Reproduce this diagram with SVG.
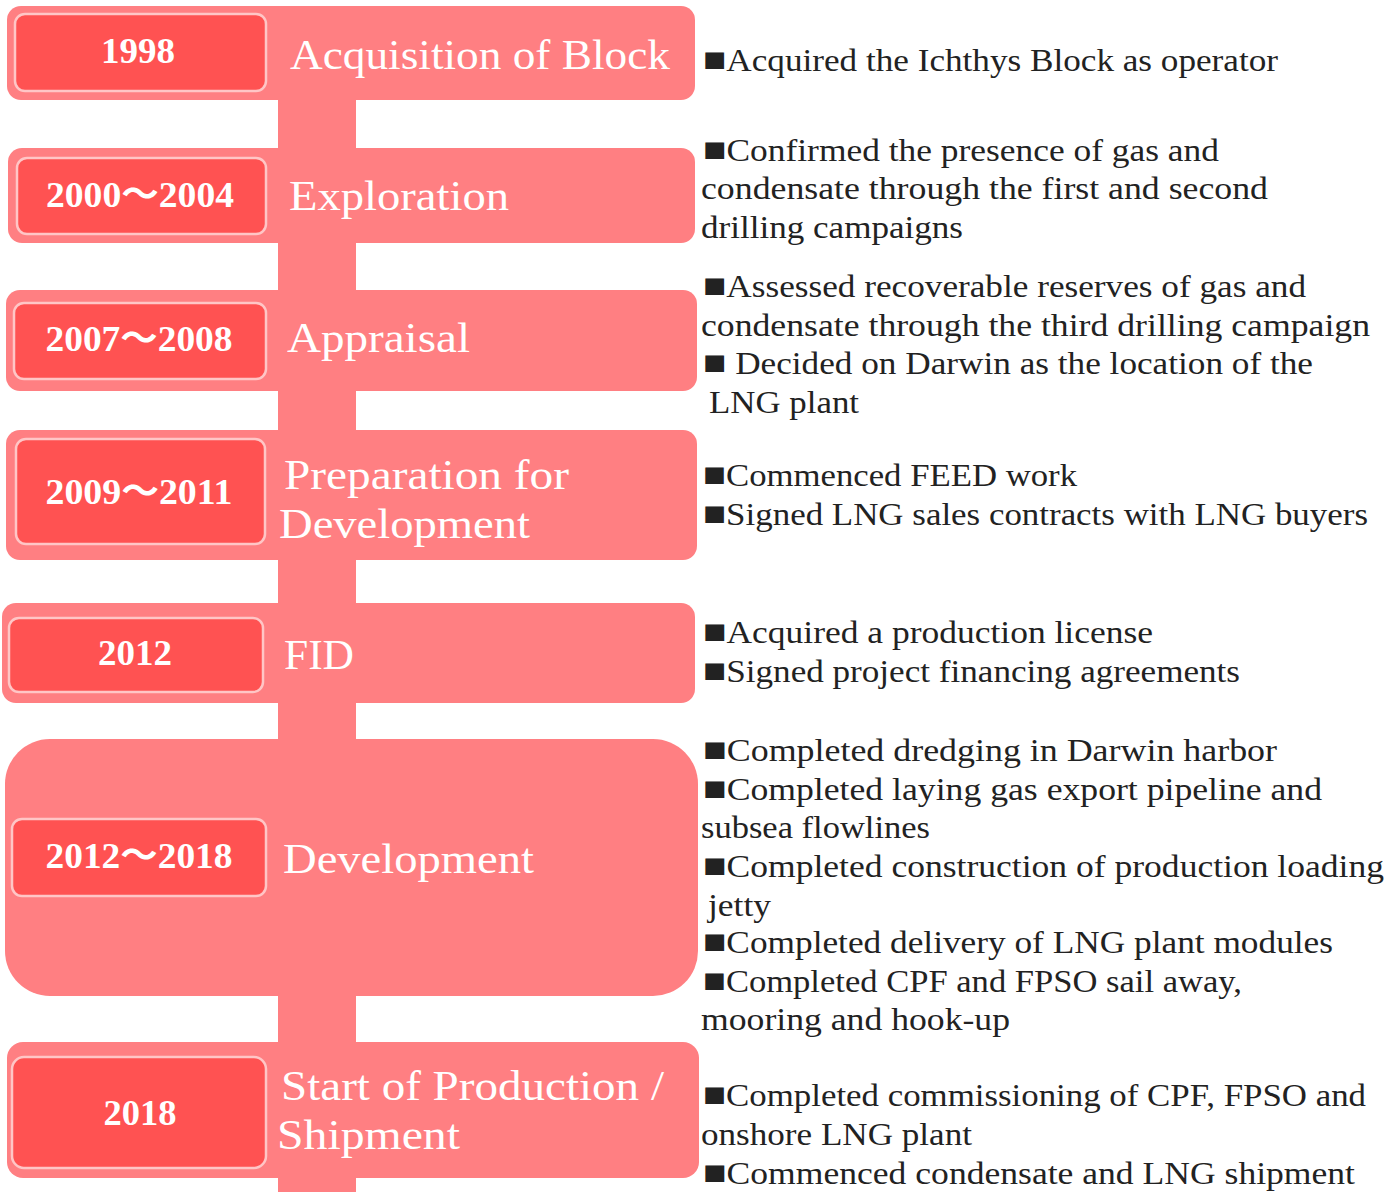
<svg xmlns="http://www.w3.org/2000/svg" width="1393" height="1192" viewBox="0 0 1393 1192">
<style>
.outer{fill:#FF7F82}
.inner{fill:#FF5252;stroke:#FFC6C6;stroke-width:2.5}
.yr{font-family:"Liberation Serif","Noto Sans CJK JP",serif;font-weight:bold;font-size:36px;fill:#fff;text-anchor:middle}
.ttl{font-family:"Liberation Serif",serif;font-size:42px;fill:#fff}
.desc{font-family:"Liberation Serif","DejaVu Sans",serif;font-size:31px;fill:#222}
.b{font-size:34px}
</style>
<rect width="1393" height="1192" fill="#fff"/>
<g id="connectors">
<rect x="278" y="90" width="78" height="1102" class="outer"/>
</g>
<g id="n1998">
<rect class="outer" x="7" y="6" width="688" height="94" rx="14"/>
<rect class="inner" x="15" y="14" width="251" height="77" rx="10"/>
<text class="yr" x="138" y="63" textLength="74" lengthAdjust="spacingAndGlyphs">1998</text>
<text class="ttl" x="290" y="69" textLength="380" lengthAdjust="spacingAndGlyphs">Acquisition of Block</text>
<text class="desc" x="703" y="71" textLength="575" lengthAdjust="spacingAndGlyphs"><tspan class="b">■</tspan>Acquired the Ichthys Block as operator</text>
</g>
<g id="n2000">
<rect class="outer" x="8" y="148" width="687" height="95" rx="14"/>
<rect class="inner" x="17" y="158" width="249" height="76" rx="10"/>
<text class="yr" x="140" y="207" textLength="188" lengthAdjust="spacingAndGlyphs">2000～2004</text>
<text class="ttl" x="289" y="210" textLength="220" lengthAdjust="spacingAndGlyphs">Exploration</text>
<text class="desc" x="703" y="161" textLength="516" lengthAdjust="spacingAndGlyphs"><tspan class="b">■</tspan>Confirmed the presence of gas and</text>
<text class="desc" x="701" y="199" textLength="567" lengthAdjust="spacingAndGlyphs">condensate through the first and second</text>
<text class="desc" x="701" y="238" textLength="262" lengthAdjust="spacingAndGlyphs">drilling campaigns</text>
</g>
<g id="n2007">
<rect class="outer" x="6" y="290" width="691" height="101" rx="14"/>
<rect class="inner" x="14" y="303" width="252" height="76" rx="10"/>
<text class="yr" x="139" y="351" textLength="187" lengthAdjust="spacingAndGlyphs">2007～2008</text>
<text class="ttl" x="287" y="352" textLength="183" lengthAdjust="spacingAndGlyphs">Appraisal</text>
<text class="desc" x="703" y="297" textLength="603" lengthAdjust="spacingAndGlyphs"><tspan class="b">■</tspan>Assessed recoverable reserves of gas and</text>
<text class="desc" x="701" y="336" textLength="669" lengthAdjust="spacingAndGlyphs">condensate through the third drilling campaign</text>
<text class="desc" x="703" y="374" textLength="610" lengthAdjust="spacingAndGlyphs"><tspan class="b">■</tspan> Decided on Darwin as the location of the</text>
<text class="desc" x="709" y="413" textLength="150" lengthAdjust="spacingAndGlyphs">LNG plant</text>
</g>
<g id="n2009">
<rect class="outer" x="6" y="430" width="691" height="130" rx="14"/>
<rect class="inner" x="16" y="439" width="249" height="105" rx="10"/>
<text class="yr" x="139" y="504" textLength="187" lengthAdjust="spacingAndGlyphs">2009～2011</text>
<text class="ttl" x="284" y="489" textLength="285" lengthAdjust="spacingAndGlyphs">Preparation for</text>
<text class="ttl" x="279" y="538" textLength="251" lengthAdjust="spacingAndGlyphs">Development</text>
<text class="desc" x="703" y="486" textLength="374" lengthAdjust="spacingAndGlyphs"><tspan class="b">■</tspan>Commenced FEED work</text>
<text class="desc" x="703" y="525" textLength="665" lengthAdjust="spacingAndGlyphs"><tspan class="b">■</tspan>Signed LNG sales contracts with LNG buyers</text>
</g>
<g id="n2012">
<rect class="outer" x="2" y="603" width="693" height="100" rx="14"/>
<rect class="inner" x="9" y="618" width="254" height="74" rx="10"/>
<text class="yr" x="135" y="665" textLength="74" lengthAdjust="spacingAndGlyphs">2012</text>
<text class="ttl" x="284" y="669" textLength="70" lengthAdjust="spacingAndGlyphs">FID</text>
<text class="desc" x="703" y="643" textLength="450" lengthAdjust="spacingAndGlyphs"><tspan class="b">■</tspan>Acquired a production license</text>
<text class="desc" x="703" y="682" textLength="537" lengthAdjust="spacingAndGlyphs"><tspan class="b">■</tspan>Signed project financing agreements</text>
</g>
<g id="n2012-2018">
<rect class="outer" x="5" y="739" width="693" height="257" rx="45"/>
<rect class="inner" x="12" y="819" width="254" height="77" rx="10"/>
<text class="yr" x="139" y="868" textLength="187" lengthAdjust="spacingAndGlyphs">2012～2018</text>
<text class="ttl" x="283" y="873" textLength="251" lengthAdjust="spacingAndGlyphs">Development</text>
<text class="desc" x="703" y="761" textLength="574" lengthAdjust="spacingAndGlyphs"><tspan class="b">■</tspan>Completed dredging in Darwin harbor</text>
<text class="desc" x="703" y="800" textLength="619" lengthAdjust="spacingAndGlyphs"><tspan class="b">■</tspan>Completed laying gas export pipeline and</text>
<text class="desc" x="701" y="838" textLength="229" lengthAdjust="spacingAndGlyphs">subsea flowlines</text>
<text class="desc" x="703" y="877" textLength="681" lengthAdjust="spacingAndGlyphs"><tspan class="b">■</tspan>Completed construction of production loading</text>
<text class="desc" x="708" y="916" textLength="63" lengthAdjust="spacingAndGlyphs">jetty</text>
<text class="desc" x="703" y="953" textLength="630" lengthAdjust="spacingAndGlyphs"><tspan class="b">■</tspan>Completed delivery of LNG plant modules</text>
<text class="desc" x="703" y="992" textLength="539" lengthAdjust="spacingAndGlyphs"><tspan class="b">■</tspan>Completed CPF and FPSO sail away,</text>
<text class="desc" x="701" y="1030" textLength="309" lengthAdjust="spacingAndGlyphs">mooring and hook-up</text>
</g>
<g id="n2018">
<rect class="outer" x="7" y="1042" width="692" height="136" rx="16"/>
<rect class="inner" x="12" y="1057" width="254" height="111" rx="12"/>
<text class="yr" x="140" y="1125" textLength="73" lengthAdjust="spacingAndGlyphs">2018</text>
<text class="ttl" x="281" y="1100" textLength="383" lengthAdjust="spacingAndGlyphs">Start of Production /</text>
<text class="ttl" x="277" y="1149" textLength="183" lengthAdjust="spacingAndGlyphs">Shipment</text>
<text class="desc" x="703" y="1106" textLength="663" lengthAdjust="spacingAndGlyphs"><tspan class="b">■</tspan>Completed commissioning of CPF, FPSO and</text>
<text class="desc" x="701" y="1145" textLength="271" lengthAdjust="spacingAndGlyphs">onshore LNG plant</text>
<text class="desc" x="703" y="1184" textLength="652" lengthAdjust="spacingAndGlyphs"><tspan class="b">■</tspan>Commenced condensate and LNG shipment</text>
</g>
</svg>
